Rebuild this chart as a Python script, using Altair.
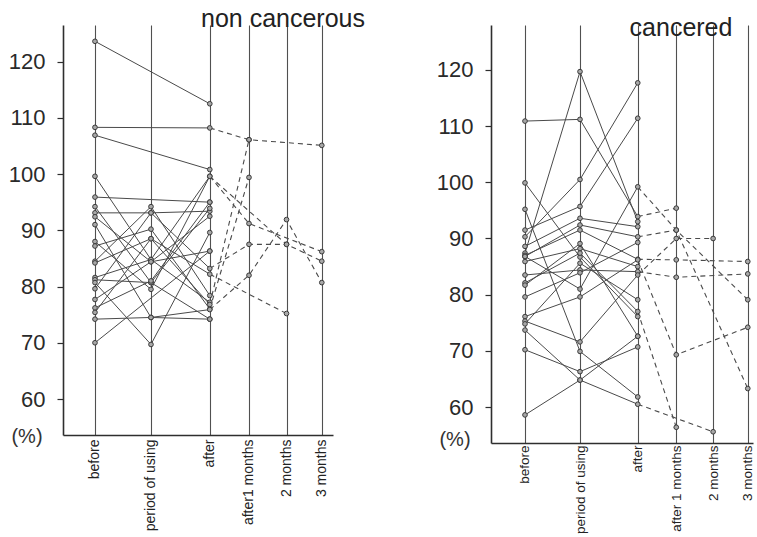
import altair as alt
import pandas as pd

# ---------------- data ----------------
stages_left = ["before", "period of using", "after", "after1 months", "2 months", "3 months"]
stages_right = ["before", "period of using", "after", "after 1 months", "2 months", "3 months"]
stage_pos = [0, 1, 2.05, 2.75, 3.42, 4.05]
y_ticks = [60, 70, 80, 90, 100, 110, 120]

N = None
# each row: before, period of using, after, after 1 month, 2 months, 3 months
left_subjects = [
    [123.6, N, 112.5, N, N, N],
    [108.3, N, 108.2, 106.1, N, 105.1],
    [106.9, N, 100.8, N, N, N],
    [99.6, 84.8, 77.2, N, N, N],
    [95.9, N, 95.0, N, N, N],
    [94.2, 80.7, 74.2, N, N, N],
    [93.1, 93.1, 93.4, N, N, N],
    [92.4, 84.4, 86.3, N, N, N],
    [91.0, 74.5, 74.2, N, N, N],
    [88.0, 79.5, 99.6, N, 87.5, 84.5],
    [87.2, 90.2, 76.0, 99.4, N, N],
    [84.5, 94.2, 78.4, N, N, N],
    [84.2, 88.5, 76.8, 106.1, N, N],
    [81.6, 84.8, 99.6, 91.2, N, 86.2],
    [81.2, 80.7, 93.9, N, N, N],
    [80.7, 69.7, 89.6, N, N, N],
    [79.6, 93.1, 83.2, 87.5, 87.5, N],
    [77.7, 84.4, 92.5, N, N, N],
    [76.2, 81.0, 95.0, N, N, N],
    [75.4, 88.5, 82.2, N, 75.2, N],
    [74.2, 74.5, 75.9, 82.0, 91.9, 80.7],
    [70.0, N, 86.3, N, N, N],
]
right_subjects = [
    [110.9, 111.2, 93.9, 95.4, N, N],
    [99.9, 86.7, 76.1, N, N, N],
    [95.2, 69.9, 61.8, N, N, N],
    [91.5, 95.7, 111.4, N, N, N],
    [90.3, 100.5, 117.7, N, N, N],
    [88.6, 93.6, 92.1, N, N, N],
    [87.4, 119.7, 93.0, N, N, N],
    [86.8, 92.4, 90.3, 91.5, N, 63.3],
    [87.0, 91.5, 86.3, 86.2, N, 85.9],
    [85.9, 88.2, 85.0, N, N, N],
    [83.5, 84.4, 84.1, 83.1, N, 83.7],
    [82.1, 87.4, 77.0, 56.4, N, N],
    [81.7, 89.1, 72.6, N, N, N],
    [79.6, 83.9, 89.3, N, N, N],
    [76.1, 79.6, 86.2, 69.3, N, 74.2],
    [75.3, 71.6, 83.5, 90.0, 90.0, N],
    [74.8, 85.6, 79.1, N, N, N],
    [73.7, 64.8, 60.5, N, 55.6, N],
    [70.2, 66.3, 70.7, N, N, N],
    [58.6, 64.8, 72.6, N, N, N],
    [86.8, 81.0, 99.2, 91.5, N, 79.1],
]


def frames(subjects):
    solid, dashed, pts = [], [], []
    for s, row in enumerate(subjects):
        for i, v in enumerate(row):
            if v is None:
                continue
            rec = {"subject": s, "pos": stage_pos[i], "value": v}
            pts.append(rec)
            if i <= 2:
                solid.append(rec)
            if i >= 2:
                dashed.append(rec)
    solid_df = pd.DataFrame(solid)
    dashed_df = pd.DataFrame(dashed)
    cnt = dashed_df.groupby("subject")["pos"].transform("count")
    dashed_df = dashed_df[cnt >= 2]
    return solid_df, dashed_df, pd.DataFrame(pts)


def label_expr(names):
    expr = "''"
    for p, n in reversed(list(zip(stage_pos, names))):
        expr = f"datum.value == {p} ? '{n}' : ({expr})"
    return expr


LINE = "#4a4a4a"
AX = "#2e2e2e"


def panel(subjects, names, title, width, height, xdom, ydom, title_x, title_y, pct_y, xlabpad, xlabsize):
    solid_df, dashed_df, pts_df = frames(subjects)
    x = alt.X(
        "pos:Q",
        scale=alt.Scale(domain=xdom, nice=False, zero=False),
        axis=alt.Axis(
            values=stage_pos, labelExpr=label_expr(names), title=None,
            grid=True, gridColor="#505050", gridWidth=1.1, gridOpacity=1,
            ticks=False, tickSize=0, labelAngle=-90, labelFontSize=xlabsize,
            labelFont="Liberation Sans", labelColor="#222", labelPadding=xlabpad,
            labelOverlap=False, labelFlush=False,
            domainColor=AX, domainWidth=1.6,
        ),
    )
    y = alt.Y(
        "value:Q",
        scale=alt.Scale(domain=ydom, nice=False, zero=False),
        axis=alt.Axis(
            values=y_ticks, title=None, grid=False, tickSize=6, tickColor=AX, tickWidth=1.2,
            labelFontSize=22, labelFont="Liberation Sans", labelColor="#2a2a2a",
            labelPadding=12, labelOverlap=False, domainColor=AX, domainWidth=1.6,
        ),
    )
    solid = alt.Chart(solid_df).mark_line(color=LINE, strokeWidth=1).encode(
        x=x, y=y, detail="subject:N", order="pos:Q")
    dashed = alt.Chart(dashed_df).mark_line(color=LINE, strokeWidth=1.1, strokeDash=[5, 4]).encode(
        x=x, y=y, detail="subject:N", order="pos:Q")
    pts = alt.Chart(pts_df).mark_point(
        shape="circle", size=22, filled=True, fill="#a8a8a8", stroke="#3a3a3a", strokeWidth=1, opacity=1
    ).encode(x=x, y=y)
    ttl = alt.Chart(pd.DataFrame({"t": [title]})).mark_text(
        fontSize=25, font="Liberation Sans", color="#222", align="center", baseline="alphabetic"
    ).encode(text="t:N", x=alt.value(title_x), y=alt.value(title_y))
    pct = alt.Chart(pd.DataFrame({"t": ["(%)"]})).mark_text(
        fontSize=20, font="Liberation Sans", color="#333", align="center", baseline="middle"
    ).encode(text="t:N", x=alt.value(-36), y=alt.value(pct_y))
    return alt.layer(solid, dashed, pts, ttl, pct).properties(width=width, height=height)


left = panel(left_subjects, stages_left, "non cancerous", 270, 410,
             [-0.571, 4.25], [53.6, 126.5], 220, 2, 412, 4, 14)
right = panel(right_subjects, stages_right, "cancered", 262, 418,
              [-0.618, 4.145], [53.6, 128.0], 190, 11, 415, 2, 13.5)

chart = alt.hconcat(left, right, spacing=158, bounds="flush").configure_view(
    stroke=None
).properties(
    padding={"left": 8, "top": 7, "right": 0, "bottom": 0},
    background="white",
)

chart.save("out.html", embed_options={"renderer": "svg", "actions": False})
